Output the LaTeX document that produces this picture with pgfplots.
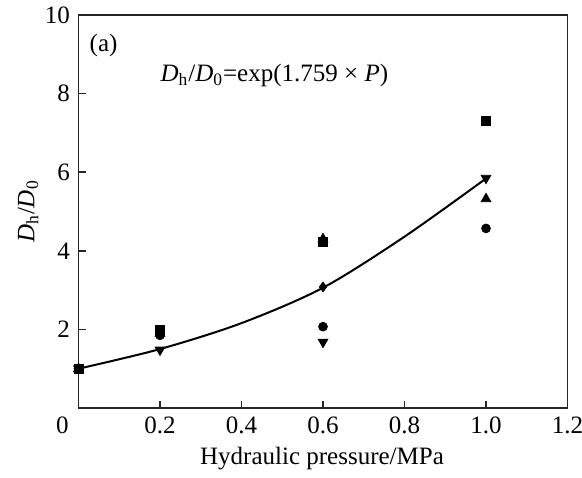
\documentclass[border=0pt]{standalone}
\usepackage{fontspec}
\setmainfont{Liberation Serif}
\usepackage{pgfplots}
\pgfplotsset{compat=1.18}
\begin{document}
\fontsize{12.5}{15}\selectfont
\begin{tikzpicture}
\begin{axis}[
  scale only axis,
  width=244.5pt, height=196.5pt,
  xmin=0, xmax=1.2, ymin=0, ymax=10,
  xtick={0.2,0.4,0.6,0.8,1.0,1.2},
  xticklabels={0.2,0.4,0.6,0.8,1.0,1.2},
  extra x ticks={0},
  extra x tick labels={0},
  extra x tick style={major tick length=0pt, xticklabel style={xshift=-8pt}},
  ytick={2,4,6,8,10},
  yticklabels={2,4,6,8,10},
  tick align=inside,
  xtick pos=bottom, ytick pos=left,
  major tick length=3.5pt,
  axis line style={line width=0.75pt, black!85},
  tick style={line width=0.75pt, black!85},
  tick label style={font=\fontsize{12.5}{15}\selectfont},
  /pgf/number format/assume math mode=true,
  xlabel={Hydraulic pressure/MPa},
  ylabel={\textit{D}\textsubscript{h}/\textit{D}\textsubscript{0}},
  xlabel style={at={(axis description cs:0.498,-0.145)}, anchor=base},
  ylabel style={at={(axis description cs:-0.103,0.5)}, anchor=center, rotate=0},
  label style={font=\fontsize{12.5}{15}\selectfont},
  clip=false,
]
\coordinate (sw) at (rel axis cs:0,0);
\coordinate (ne) at (rel axis cs:1,1);
\addplot[smooth, line width=1pt, black, no marks] coordinates {
 (0,1.0) (0.2,1.50) (0.4,2.16) (0.6,3.06) (0.8,4.36) (1.0,5.84)};
\addplot[only marks, mark=*, mark size=2.2pt, black] coordinates {
 (0,1.0) (0.2,1.85) (0.6,2.07) (1.0,4.57)};
\addplot[only marks, mark=triangle*, mark size=2.8pt, black] coordinates {
 (0,1.0) (0.2,1.9) (0.6,4.3) (1.0,5.32)};
\addplot[only marks, mark=square*, mark size=2.2pt, black] coordinates {
 (0,1.0) (0.2,1.98) (0.6,4.22) (1.0,7.3)};
\addplot[only marks, mark=triangle*, mark options={rotate=180}, mark size=2.8pt, black] coordinates {
 (0,1.0) (0.2,1.48) (0.6,1.68) (1.0,5.85)};
\addplot[only marks, mark=diamond*, mark size=2.4pt, black] coordinates {
 (0.6,3.08)};
\node[anchor=base west] at (axis description cs:0.005,0.908) {(a)};
\node[anchor=base west] at (axis description cs:0.15,0.83) {\textit{D}\textsubscript{h}/\textit{D}\textsubscript{0}=exp(1.759 × \textit{P})};
\end{axis}
\pgfresetboundingbox
\path[use as bounding box] (sw) ++(-39.25pt,-34.5pt) rectangle ([shift={(7.25pt,7.5pt)}]ne);
\end{tikzpicture}
\end{document}
